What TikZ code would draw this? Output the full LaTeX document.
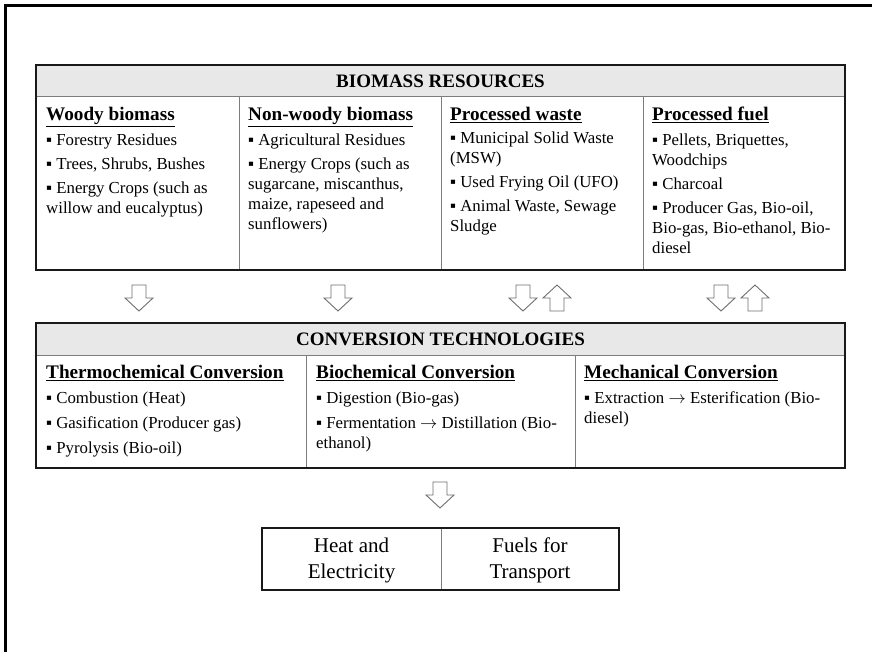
\documentclass[tikz,border=0pt]{standalone}
\usepackage{fontspec}
\setmainfont{Liberation Serif}
\usetikzlibrary{positioning, calc}
\definecolor{headgray}{RGB}{232,232,232}
\definecolor{rulegray}{RGB}{125,125,125}
\definecolor{arrowgray}{RGB}{110,110,110}
\tikzstyle{tableframe} = [draw=black!90, line width=2.4pt]
\tikzstyle{headfill} = [fill=headgray]
\tikzstyle{divider} = [draw=rulegray, line width=1pt]
\tikzstyle{headtext} = [inner sep=0pt, font=\fontsize{19}{22}\selectfont\bfseries]
\tikzstyle{celltext} = [anchor=north west, align=left, inner sep=0pt, font=\fontsize{16.8}{20}\selectfont]
\tikzstyle{outtext} = [align=center, inner sep=0pt, font=\fontsize{21}{26}\selectfont]
\tikzstyle{blockarrow} = [draw=arrowgray, fill=white, line width=0.9pt, line join=miter]
\tikzset{
  downarrow/.pic={\path[blockarrow] (-7,0) -- (7,0) -- (7,13) -- (14,13) -- (0,26) -- (-14,13) -- (-7,13) -- cycle;},
  uparrow/.pic={\path[blockarrow] (-7,26) -- (7,26) -- (7,13) -- (14,13) -- (0,0) -- (-14,13) -- (-7,13) -- cycle;}
}
\newcommand{\colhead}[1]{{\fontsize{19.2}{20}\selectfont\bfseries\underline{#1}}}
\newcommand{\itm}{▪\ }
\newcommand{\thento}{$\rightarrow$}

\begin{document}
\begin{tikzpicture}[x=1pt, y=-1pt]
        \useasboundingbox (0,0) rectangle (872,652);

        % page frame
        \draw[line width=2.4pt] (5.5,652) -- (5.5,5.5) -- (872,5.5);

        % Biomass resources table
        \path[headfill] (36,65) rectangle (845,97);
        \draw[divider] (36,97) -- (845,97);
        \draw[divider] (239,97) -- (239,270);
        \draw[divider] (441,97) -- (441,270);
        \draw[divider] (643,97) -- (643,270);
        \draw[tableframe] (36,65) rectangle (845,270);
        \node[headtext] (bioheader) at (440.5,81) {BIOMASS RESOURCES};

        \node[celltext] (woody) at (46,107) {\colhead{Woody biomass}\\[5pt]
            \itm Forestry Residues\\[4pt]
            \itm Trees, Shrubs, Bushes\\[4pt]
            \itm Energy Crops (such as\\
            willow and eucalyptus)};
        \node[celltext] (nonwoody) at (248,107) {\colhead{Non-woody biomass}\\[5pt]
            \itm Agricultural Residues\\[4pt]
            \itm Energy Crops (such as\\
            sugarcane, miscanthus,\\
            maize, rapeseed and\\
            sunflowers)};
        \node[celltext] (waste) at (450,107) {\colhead{Processed waste}\\[3pt]
            \itm Municipal Solid Waste\\
            (MSW)\\[4pt]
            \itm Used Frying Oil (UFO)\\[4pt]
            \itm Animal Waste, Sewage\\
            Sludge};
        \node[celltext] (fuel) at (652,107) {\colhead{Processed fuel}\\[5pt]
            \itm Pellets, Briquettes,\\
            Woodchips\\[4pt]
            \itm Charcoal\\[4pt]
            \itm Producer Gas, Bio-oil,\\
            Bio-gas, Bio-ethanol, Bio-\\
            diesel};

        % Block arrows between the tables
        \pic at (139,285) {downarrow};
        \pic at (338,285) {downarrow};
        \pic at (523,285) {downarrow};
        \pic at (557,285) {uparrow};
        \pic at (721,285) {downarrow};
        \pic at (755,285) {uparrow};

        % Conversion technologies table
        \path[headfill] (36,323) rectangle (845,355);
        \draw[divider] (36,355) -- (845,355);
        \draw[divider] (306,355) -- (306,468);
        \draw[divider] (575,355) -- (575,468);
        \draw[tableframe] (36,323) rectangle (845,468);
        \node[headtext] (convheader) at (440.5,339) {CONVERSION TECHNOLOGIES};

        \node[celltext] (thermo) at (46,365) {\colhead{Thermochemical Conversion}\\[5pt]
            \itm Combustion (Heat)\\[5pt]
            \itm Gasification (Producer gas)\\[5pt]
            \itm Pyrolysis (Bio-oil)};
        \node[celltext] (biochem) at (316,365) {\colhead{Biochemical Conversion}\\[5pt]
            \itm Digestion (Bio-gas)\\[5pt]
            \itm Fermentation \thento{} Distillation (Bio-\\
            ethanol)};
        \node[celltext] (mech) at (584,365) {\colhead{Mechanical Conversion}\\[5pt]
            \itm Extraction \thento{} Esterification (Bio-\\
            diesel)};

        \pic at (440,482) {downarrow};

        % Outputs
        \draw[divider] (441,528) -- (441,590);
        \draw[tableframe] (262,528) rectangle (619,590);
        \node[outtext] (heat) at (351.5,560) {Heat and\\Electricity};
        \node[outtext] (transport) at (530,560) {Fuels for\\Transport};
    \end{tikzpicture}
\end{document}
